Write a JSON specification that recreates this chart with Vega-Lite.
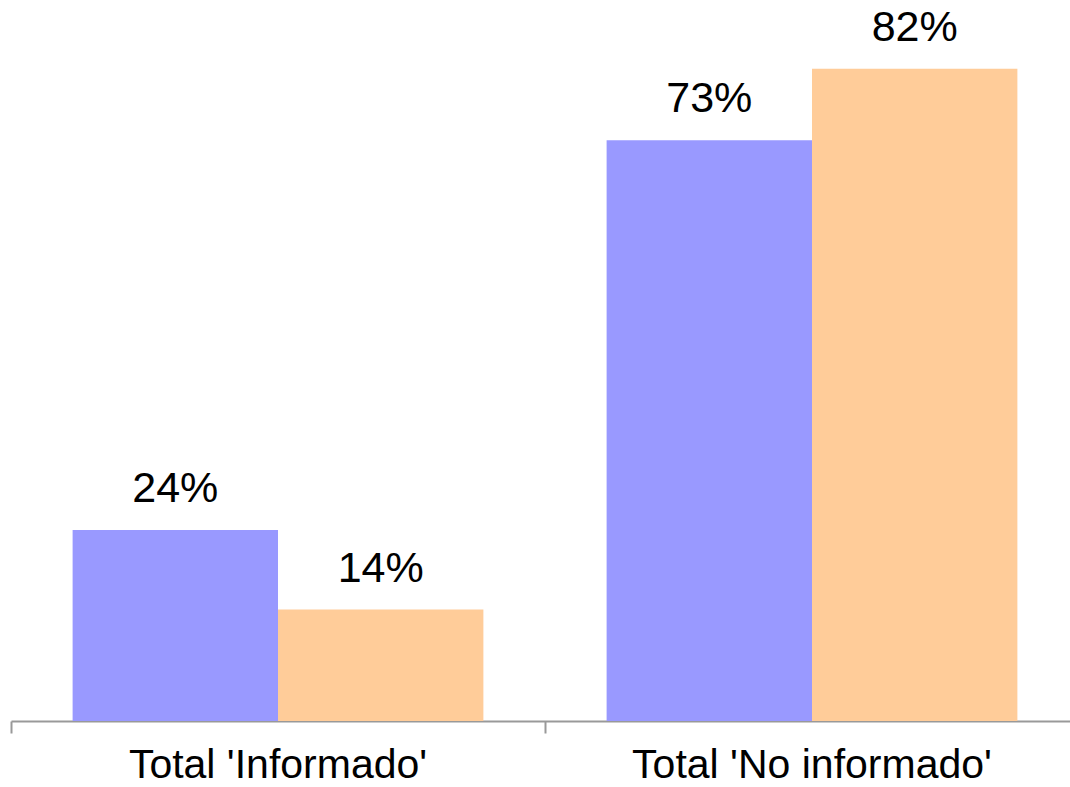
{
  "$schema": "https://vega.github.io/schema/vega-lite/v6.json",
  "autosize": {"type": "none"},
  "padding": {"left": 11, "top": 5, "right": 0, "bottom": 66},
  "width": 1059,
  "height": 716,
  "background": "white",
  "config": {"view": {"stroke": null}, "font": "Liberation Sans"},
  "data": {"values": [
    {"categoria": "Total 'Informado'", "serie": "A", "valor": 0.24},
    {"categoria": "Total 'Informado'", "serie": "B", "valor": 0.14},
    {"categoria": "Total 'No informado'", "serie": "A", "valor": 0.73},
    {"categoria": "Total 'No informado'", "serie": "B", "valor": 0.82}
  ]},
  "encoding": {
    "x": {"field": "categoria", "type": "nominal", "sort": null,
      "scale": {"range": [0, 1068], "paddingInner": 0, "paddingOuter": 0},
      "axis": {"title": null, "labelAngle": 0, "labelFontSize": 41, "labelColor": "black", "labelLimit": 0,
        "labelBaseline": "alphabetic", "labelPadding": 44, "tickSize": 12, "tickColor": "#999999",
        "tickWidth": 2, "domainColor": "#999999", "domainWidth": 2, "bandPosition": 0, "ticks": true,
        "labelFont": "Liberation Sans"}},
    "xOffset": {"field": "serie", "type": "nominal", "scale": {"paddingOuter": 0.3, "paddingInner": 0}},
    "y": {"field": "valor", "type": "quantitative", "scale": {"domain": [0, 0.9], "nice": false}, "axis": null}
  },
  "layer": [
    {"mark": {"type": "bar"},
      "encoding": {"color": {"field": "serie", "type": "nominal", "legend": null,
        "scale": {"domain": ["A", "B"], "range": ["#9999FF", "#FFCC99"]}}}},
    {"mark": {"type": "text", "baseline": "alphabetic", "dy": -28, "fontSize": 43, "color": "black", "font": "Liberation Sans"},
      "encoding": {"text": {"field": "valor", "type": "quantitative", "format": ".0%"}}}
  ]
}
